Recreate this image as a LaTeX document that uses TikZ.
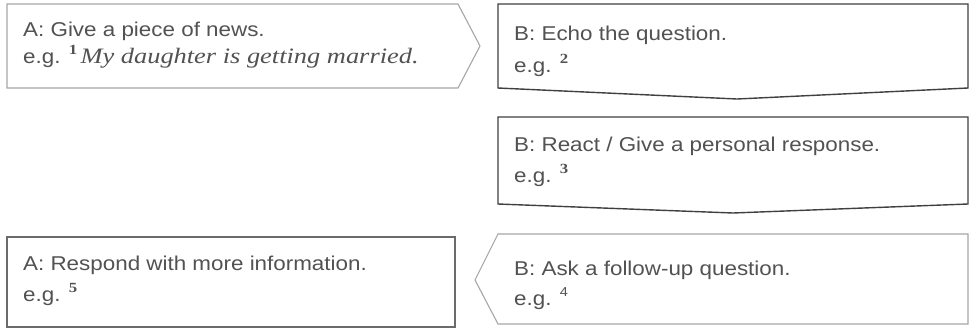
\documentclass[tikz,border=0pt]{standalone}
\usepackage{fontspec}
\setmainfont{Liberation Sans}[FakeStretch=1.12]
\newfontfamily\serifit{Liberation Serif}[FakeStretch=1.2]
\newcommand{\supnum}[1]{\raisebox{0.45em}{\serifit\bfseries\fontsize{14}{14}\selectfont #1}}
\begin{document}
\begin{tikzpicture}[x=1pt,y=-1pt,
  lightbox/.style={draw=black!35,line width=1.1pt,fill=white,line join=miter},
  darkbox/.style={draw=black!75,line width=1.4pt,fill=white,line join=miter},
  midbox/.style={draw=black!58,line width=1.2pt,fill=white,line join=miter},
  txt/.style={anchor=base west,inner sep=0pt,text=black!68,font=\fontsize{20}{22}\selectfont}]
\useasboundingbox (0,0) rectangle (970,330);
% shapes
\draw[lightbox] (7,4) -- (458,4) -- (480,46) -- (458,88) -- (7,88) -- cycle;
\draw[darkbox] (498,4) -- (968,4) -- (968,88) -- (737,99) -- (498,88) -- cycle;
\draw[darkbox] (498,117) -- (968,117) -- (968,204) -- (733,213) -- (498,204) -- cycle;
\draw[lightbox] (498,234) -- (968,234) -- (968,324) -- (498,324) -- (475,280) -- cycle;
\draw[midbox] (7,237) rectangle (455,327);
% texts
\node[txt] (t1a) at (23,36) {A: Give a piece of news.};
\node[txt] (t1b) at (23,63) {e.g. \supnum{1}\,{\serifit\itshape\fontsize{22}{24}\selectfont My daughter is getting married.}};
\node[txt] (t2a) at (514,40) {B: Echo the question.};
\node[txt] (t2b) at (514,72) {e.g. \supnum{2}};
\node[txt] (t3a) at (514,151) {B: React / Give a personal response.};
\node[txt] (t3b) at (514,182) {e.g. \supnum{3}};
\node[txt] (t4a) at (514,275) {B: Ask a follow-up question.};
\node[txt] (t4b) at (514,305) {e.g. \raisebox{0.45em}{\fontsize{13}{13}\selectfont 4}};
\node[txt] (t5a) at (23,270) {A: Respond with more information.};
\node[txt] (t5b) at (23,301) {e.g. \supnum{5}};
\end{tikzpicture}
\end{document}
